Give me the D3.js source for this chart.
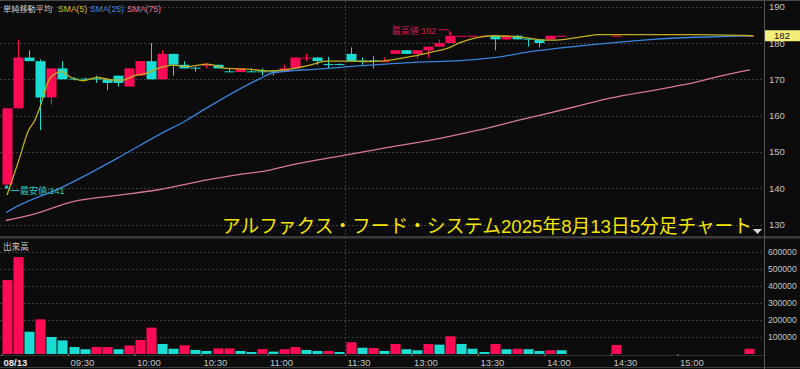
<!DOCTYPE html>

<head>
    <meta charset="utf-8">
    <script src="https://d3js.org/d3.v7.min.js"></script>
    <style>
        body { margin: 0; background: #0c0c0c; }
        text { font-family: "Liberation Sans", "Noto Sans CJK JP", sans-serif; }
    </style>
</head>

<body>
    <script>
        ////////////// Data //////////////

        const NA = null

        // 5 minute bars, 68 slots: 09:00 ... 11:30 then 12:30 ... 15:30
        const opens = [141, 162, 176, 175, 165, 173, 170.2, 170.2, 170.2, 170, 171, 168, 171, 175, 170, 177, 174, 173.2, 174, 174,
            172.2, 172, 172.2, 172.2, 172.2, 172, 173, 176, 176, 174.2, 174.2, 177, 175.2, 175.2, 175, 177, 178, 177, 178, 179,
            180, 182, 182, 182, 182, 181, 182, 181.2, 181, 181, 182, NA, NA, NA, NA, 182, NA, NA, NA, NA,
            NA, NA, NA, NA, NA, NA, NA, 182]
        const highs = [162, 181, 178, 175.5, 173, 175, 170.6, 170.4, 171, 170.3, 171, 173, 175, 180, 178, 177, 175, 173.5, 174.5, 174,
            173, 173, 173, 173, 172.6, 174, 176, 177, 176, 176.2, 174.4, 178.8, 176, 176.5, 176, 178, 178, 178, 179, 181,
            182, 182, 182, 182, 182, 182, 182.2, 181.3, 181, 182, 182, NA, NA, NA, NA, 182, NA, NA, NA, NA,
            NA, NA, NA, NA, NA, NA, NA, 182]
        const lows = [141, 162, 175, 156, 163, 170, 169.7, 169.5, 169, 167, 168, 168, 171, 170, 170, 171, 173, 172.1, 173, 173,
            172, 172, 172, 171, 171, 172, 173, 175, 174, 172.8, 173.8, 175, 174, 173, 175, 177, 177, 175.7, 176, 179,
            180, 182, 182, 182, 178, 180.8, 181, 179, 178.8, 181, 182, NA, NA, NA, NA, 182, NA, NA, NA, NA,
            NA, NA, NA, NA, NA, NA, NA, 182]
        const closes = [162, 176, 175, 165, 173, 170, 170, 170, 170, 169, 169, 173, 175, 170, 177, 174, 173, 173, 174, 173,
            172, 173, 172, 172, 172, 173, 176, 176, 175, 174, 174, 175, 175, 175, 175, 178, 177, 178, 179, 180,
            182, 182, 182, 182, 181, 182, 181, 181, 180, 182, 182, NA, NA, NA, NA, 182, NA, NA, NA, NA,
            NA, NA, NA, NA, NA, NA, NA, 182]

        const volumes = [435000, 570000, 131000, 204000, 100000, 80000, 41000, 28000, 41000, 41000, 28000, 50000, 82000, 155000, 59000, 31000, 51000, 24000, 18000, 33000,
            33000, 18000, 12000, 29000, 14000, 28000, 41000, 24000, 18000, 18000, 12000, 69000, 37000, 35000, 18000, 59000, 28000, 22000, 59000, 55000,
            104000, 59000, 31000, 12000, 59000, 28000, 31000, 28000, 18000, 22000, 22000, NA, NA, NA, NA, 53000, NA, NA, NA, NA,
            NA, NA, NA, NA, NA, NA, NA, 31000]
        // 1 = up (red), 0 = down (cyan), as coloured in the volume pane
        const volumeUp = [1, 1, 0, 1, 0, 0, 0, 0, 1, 1, 0, 1, 1, 1, 0, 0, 1, 0, 0, 1,
            1, 0, 0, 1, 0, 1, 1, 0, 0, 1, 0, 1, 0, 1, 0, 1, 0, 0, 1, 0,
            1, 0, 0, 0, 1, 0, 1, 0, 0, 1, 0, NA, NA, NA, NA, 1, NA, NA, NA, NA,
            NA, NA, NA, NA, NA, NA, NA, 1]

        // moving averages, position in slots / value
        const sma5Pos = [0.5, 1.67, 2.39, 3.02, 3.38, 4.38, 5.46, 6.18, 7.36, 8.62, 10.06, 10.97, 11.87, 13.13, 14.31, 15.48, 16.74, 18.55, 20.35, 22.16,
            24.23, 26.04, 27.84, 29.38, 31.09, 33.26, 35.06, 37.14, 38.94, 40.21, 41.38, 42.91, 44.36, 46.16, 47.7, 49.0, 50.1, 51.94, 53.0, 53.74, 62.77, 67.83]
        const sma5Val = [138.1, 148.7, 155.6, 158.8, 161.5, 170.3, 172.1, 170.7, 169.6, 170.5, 169.8, 169.8, 170.9, 171.7, 173.2, 173.9, 173.5, 174.2, 173, 172.8,
            172.3, 172.8, 173.9, 175, 175, 174.9, 175.3, 176.4, 177.6, 178.5, 180.1, 181.5, 182, 181.8, 181.3, 180.8, 180.8, 181.5, 182, 182.3, 182.3, 182]

        const sma25Pos = [0.41, 1.67, 5.28, 10.42, 14.31, 16.74, 18.19, 23.33, 24.5, 28.47, 36.87, 42.01, 45, 47.7, 52.21, 58.8, 67.83]
        const sma25Val = [133.3, 135.4, 140, 148.2, 154.9, 158.8, 161.5, 170.2, 171.8, 172.8, 174.6, 175.3, 176.2, 177.6, 179.2, 181, 182]

        const sma75Pos = [0.41, 2.84, 6.45, 10.42, 14.03, 18.55, 21.53, 24.23, 25.59, 31.0, 34.4, 38.85, 43, 46.8, 51.58, 54.92, 59.43, 62.77, 64.85, 67.55]
        const sma75Val = [131.1, 132.8, 136.3, 138, 139.5, 142.3, 143.8, 145.0, 146.0, 149.1, 151, 153.3, 156, 158.8, 162.3, 164.8, 167.3, 169.3, 170.9, 172.6]

        const tickSlots = [0, 6, 12, 18, 24, 31, 37, 43, 49, 55, 61]
        const tickLabels = ["08/13", "09:30", "10:00", "10:30", "11:00", "11:30", "13:00", "13:30", "14:00", "14:30", "15:00"]
        const priceTicks = [130, 140, 150, 160, 170, 180, 190]
        const volumeTicks = [100000, 200000, 300000, 400000, 500000, 600000]

        const lastPrice = 182
        const highSlot = 40, highPrice = 182
        const lowSlot = 0, lowPrice = 141
        const title = "アルファクス・フード・システム2025年8月13日5分足チャート"

        ////////////// Create the SVG //////////////

        let width = 800,
            height = 369

        let plotRight = 764

        let svg = d3.select("body")
            .append("svg")
            .attr("width", width)
            .attr("height", height)

        svg.append("rect")
            .attr("width", width)
            .attr("height", height)
            .attr("fill", "#0c0c0c")

        ////////////// Scales //////////////

        const x_scale = d3.scaleLinear() //slot
            .domain([0, 68])
            .range([1.5, 755])

        const y_price = d3.scaleLinear()
            .domain([130, 190])
            .range([224.5, 6.7])

        const y_volume = d3.scaleLinear()
            .domain([0, 600000])
            .range([354, 252])

        const red = "#ff0a54",
            cyan = "#19dcd2",
            grid = "#3d3d3d",
            axisText = "#c4c4c4"

        const bodyW = 10

        ////////////// Grid //////////////

        let grid_group = svg.append("g").attr("stroke", grid).attr("stroke-dasharray", "2,2")

        grid_group.selectAll(".pgrid")
            .data(priceTicks)
            .enter().append("line")
            .attr("x1", 0).attr("x2", plotRight)
            .attr("y1", d => Math.round(y_price(d)) + 0.5)
            .attr("y2", d => Math.round(y_price(d)) + 0.5)

        grid_group.selectAll(".vgrid")
            .data(volumeTicks)
            .enter().append("line")
            .attr("x1", 0).attr("x2", plotRight)
            .attr("y1", d => Math.round(y_volume(d)) + 0.5)
            .attr("y2", d => Math.round(y_volume(d)) + 0.5)

        // session break
        grid_group.append("line")
            .attr("x1", Math.round(x_scale(31)) + 0.5).attr("x2", Math.round(x_scale(31)) + 0.5)
            .attr("y1", 1).attr("y2", 354)

        ////////////// Frames //////////////

        svg.append("line").attr("x1", 0).attr("x2", width).attr("y1", 0.5).attr("y2", 0.5).attr("stroke", "#4a4a4a")
        svg.append("rect").attr("x", 0).attr("y", 236).attr("width", width).attr("height", 2.5).attr("fill", "#3a3a3a")
        svg.append("line").attr("x1", 0).attr("x2", plotRight).attr("y1", 355.5).attr("y2", 355.5).attr("stroke", "#2e2e2e")
        svg.append("line").attr("x1", 0).attr("x2", width).attr("y1", 367.5).attr("y2", 367.5).attr("stroke", "#3a3a3a")
        svg.append("line").attr("x1", plotRight + 0.5).attr("x2", plotRight + 0.5).attr("y1", 0).attr("y2", height).attr("stroke", "#555")

        ////////////// Candles //////////////

        let bars = d3.range(68).filter(i => opens[i] != null)

        let candle_group = svg.append("g").attr("class", "candles")

        candle_group.selectAll(".wick")
            .data(bars)
            .enter().append("line")
            .attr("x1", i => Math.round(x_scale(i + 0.5)) + 0.5)
            .attr("x2", i => Math.round(x_scale(i + 0.5)) + 0.5)
            .attr("y1", i => y_price(highs[i]))
            .attr("y2", i => y_price(lows[i]))
            .attr("stroke", i => closes[i] >= opens[i] ? red : cyan)

        candle_group.selectAll(".body")
            .data(bars)
            .enter().append("rect")
            .attr("x", i => Math.round(x_scale(i + 0.5)) - bodyW / 2 + 0.5)
            .attr("width", bodyW)
            .attr("y", i => y_price(Math.max(opens[i], closes[i])))
            .attr("height", i => Math.max(1, Math.abs(y_price(opens[i]) - y_price(closes[i]))))
            .attr("fill", i => closes[i] >= opens[i] ? red : cyan)

        ////////////// Moving averages //////////////

        const line = d3.line()
            .x(d => x_scale(d[0]))
            .y(d => y_price(d[1]))
            .curve(d3.curveMonotoneX)

        const smas = [
            { pos: sma75Pos, val: sma75Val, color: "#d8779c" },
            { pos: sma25Pos, val: sma25Val, color: "#3a84dc" },
            { pos: sma5Pos, val: sma5Val, color: "#c2ae1c" }
        ]

        smas.forEach(s => {
            svg.append("path")
                .attr("d", line(s.pos.map((p, i) => [p, s.val[i]])))
                .attr("fill", "none")
                .attr("stroke", s.color)
                .attr("stroke-width", 1.3)
        })

        ////////////// Volume //////////////

        svg.append("g").selectAll("rect")
            .data(d3.range(68).filter(i => volumes[i] != null))
            .enter().append("rect")
            .attr("x", i => Math.round(x_scale(i + 0.5)) - bodyW / 2 + 0.5)
            .attr("width", bodyW)
            .attr("y", i => y_volume(volumes[i]))
            .attr("height", i => y_volume(0) - y_volume(volumes[i]))
            .attr("fill", i => volumeUp[i] ? red : cyan)

        ////////////// Axes //////////////

        let price_axis = svg.append("g")
            .attr("transform", `translate(${plotRight + 5},0)`)
            .call(d3.axisRight(y_price).tickValues(priceTicks).tickSize(0).tickPadding(0))
        price_axis.select(".domain").remove()
        price_axis.selectAll("text").attr("fill", axisText).attr("font-size", 9.5).attr("font-family", null)

        let volume_axis = svg.append("g")
            .attr("transform", `translate(${plotRight + 4},0)`)
            .call(d3.axisRight(y_volume).tickValues(volumeTicks).tickSize(0).tickPadding(0).tickFormat(d3.format("d")))
        volume_axis.select(".domain").remove()
        volume_axis.selectAll("text").attr("fill", axisText).attr("font-size", 8.6).attr("font-family", null)

        let time_axis = svg.append("g")
            .attr("transform", "translate(0,354)")
            .call(d3.axisBottom(x_scale).tickValues(tickSlots).tickSize(2).tickFormat((d, i) => tickLabels[i]))
        time_axis.select(".domain").remove()
        time_axis.selectAll("line").attr("stroke", "#888")
        time_axis.selectAll("text")
            .attr("fill", axisText)
            .attr("font-size", 9.5)
            .attr("font-family", null)
            .attr("text-anchor", "start")
            .attr("x", 2)
            .attr("y", 5)
        time_axis.selectAll("text").filter((d, i) => i == 0)
            .attr("font-weight", "bold").attr("fill", "#e6e6e6").attr("x", 1.5)

        // last price tag (covers the top of the 180 label, as in the original)
        svg.append("rect")
            .attr("x", plotRight + 1).attr("y", y_price(lastPrice) - 5.5)
            .attr("width", width - plotRight - 1).attr("height", 11)
            .attr("fill", "#f3ee7a")
        svg.append("text")
            .attr("x", 782).attr("y", y_price(lastPrice) + 3.5)
            .attr("text-anchor", "middle").attr("font-size", 9.5).attr("fill", "#111")
            .text(lastPrice)

        ////////////// Labels //////////////

        svg.append("text").attr("x", 3).attr("y", 12).attr("font-size", 8.2).attr("fill", "#c8c8c8").text("単純移動平均")
        svg.append("text").attr("x", 58).attr("y", 12).attr("font-size", 8.6).attr("fill", "#d2be1e").text("SMA(5)")
        svg.append("text").attr("x", 90).attr("y", 12).attr("font-size", 8.6).attr("fill", "#3a84dc").text("SMA(25)")
        svg.append("text").attr("x", 127).attr("y", 12).attr("font-size", 8.6).attr("fill", "#e0799e").text("SMA(75)")

        svg.append("text").attr("x", 3).attr("y", 250).attr("font-size", 8.6).attr("fill", "#c8c8c8").text("出来高")

        // highest price annotation
        let hx = x_scale(highSlot + 0.5), hy = y_price(highPrice)
        svg.append("text")
            .attr("x", hx - 14).attr("y", hy - 2)
            .attr("text-anchor", "end").attr("font-size", 9).attr("fill", "#d5184c")
            .text("最高値:" + highPrice)
        svg.append("path")
            .attr("d", `M${hx - 12},${hy - 6} L${hx - 4},${hy - 6} Q${hx},${hy - 6} ${hx},${hy - 2}`)
            .attr("fill", "none").attr("stroke", "#d5184c")
        svg.append("path")
            .attr("d", `M${hx - 2},${hy - 3} L${hx + 2},${hy - 3} L${hx},${hy} Z`)
            .attr("fill", "#d5184c")

        // lowest price annotation
        let lx = x_scale(lowSlot + 0.5), ly = y_price(lowPrice)
        svg.append("rect").attr("x", lx - 2).attr("y", ly + 1).attr("width", 3).attr("height", 3).attr("fill", "#22c8c4")
        svg.append("path")
            .attr("d", `M${lx + 1},${ly + 3} L${lx + 4},${ly + 6} L${lx + 12},${ly + 6}`)
            .attr("fill", "none").attr("stroke", "#22c8c4")
        svg.append("text")
            .attr("x", lx + 13).attr("y", ly + 9.5)
            .attr("font-size", 9).attr("fill", "#22c8c4")
            .text("最安値:" + lowPrice)

        // title
        svg.append("text")
            .attr("x", 222).attr("y", 233)
            .attr("font-size", 19)
            .attr("font-family", "Noto Sans CJK JP")
            .attr("fill", "#f4e400")
            .attr("textLength", 530)
            .attr("lengthAdjust", "spacingAndGlyphs")
            .text(title)

        svg.append("path")
            .attr("d", "M753,229 L762,229 L757.5,234 Z")
            .attr("fill", "#dcdcdc")

    </script>
</body>
